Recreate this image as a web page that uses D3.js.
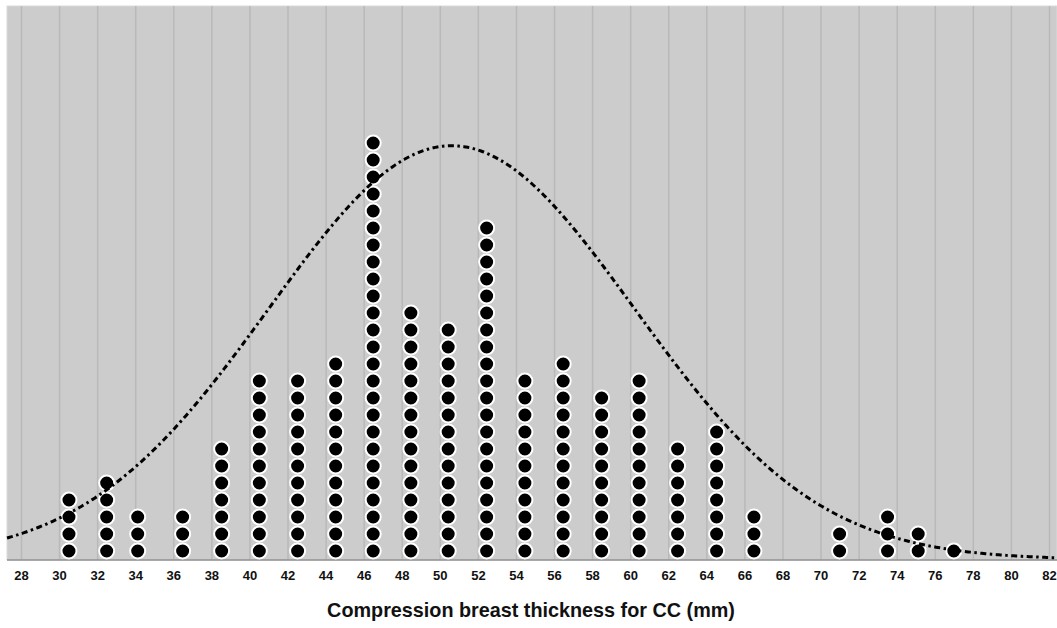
<!DOCTYPE html>
<html>
<head>
<meta charset="utf-8">
<script src="https://cdn.jsdelivr.net/npm/d3@7"></script>
<style>
  html, body { margin: 0; padding: 0; background: #ffffff; }
  svg { display: block; }
</style>
</head>
<body>
<svg id="chart" width="1057" height="628"></svg>
<script>
// ---- data ----
const binValues = [30.52, 32.5, 34.13, 36.49, 38.54, 40.52, 42.53, 44.53, 46.5, 48.48, 50.44, 52.46,
                   54.47, 56.48, 58.5, 60.47, 62.49, 64.54, 66.5, 71.0, 73.52, 75.13, 77.0];
const binCounts = [4, 5, 3, 3, 7, 11, 11, 12, 25, 15, 14, 20, 11, 12, 10, 11, 7, 8, 3, 2, 3, 2, 1];
const tickValues = d3.range(28, 83, 2);
const curveMean = 50.62;
const curveSd = 9.6;
const curvePeak = 24.34;   // height of the normal curve in dot (count) units
const xTitle = "Compression breast thickness for CC (mm)";

// ---- layout ----
const W = 1057, H = 628;
const plot = { left: 7, right: 1057, top: 6, bottom: 559.5 };
const dotStep = 17;   // px per stacked dot

const svg = d3.select("#chart");

const x = d3.scaleLinear().domain([28, 82]).range([21, 1049]);
const yMax = (plot.bottom - plot.top) / dotStep;
const y = d3.scaleLinear().domain([0, yMax]).range([plot.bottom, plot.top]);

// background
svg.append("rect")
  .attr("x", plot.left).attr("y", plot.top)
  .attr("width", plot.right - plot.left).attr("height", plot.bottom - plot.top)
  .attr("fill", "#cccccc")
  .attr("stroke", "#dadada").attr("stroke-width", 1);

// vertical gridlines
svg.append("g")
  .attr("transform", `translate(0,${plot.bottom})`)
  .call(d3.axisBottom(x).tickValues(tickValues).tickSize(-(plot.bottom - plot.top)).tickFormat(""))
  .call(g => g.select(".domain").remove())
  .call(g => g.selectAll(".tick line").attr("stroke", "#b9b9b9").attr("stroke-width", 1.5));

// axis line
svg.append("line")
  .attr("x1", plot.left).attr("x2", plot.right)
  .attr("y1", plot.bottom + 0.5).attr("y2", plot.bottom + 0.5)
  .attr("stroke", "#8c8c8c").attr("stroke-width", 1.5);

// tick labels
svg.append("g")
  .attr("transform", `translate(0,${plot.bottom})`)
  .call(d3.axisBottom(x).tickValues(tickValues).tickSize(0).tickPadding(11).tickFormat(d3.format("d")))
  .call(g => g.select(".domain").remove())
  .call(g => g.selectAll(".tick text")
    .attr("font-family", "'Liberation Sans', Arial, sans-serif")
    .attr("font-size", 13).attr("font-weight", "bold").attr("fill", "#111"));

// dots
const dots = [];
binValues.forEach((v, i) => {
  for (let k = 0; k < binCounts[i]; k++) dots.push({ v, k });
});
svg.append("g").selectAll("circle").data(dots).join("circle")
  .attr("cx", d => x(d.v))
  .attr("cy", d => y(d.k + 0.5))
  .attr("r", 7.5)
  .attr("fill", "#000")
  .attr("stroke", "#ffffff").attr("stroke-width", 2);

// normal curve
const xs = d3.range(x.invert(plot.left), x.invert(plot.right) + 0.01, 0.1);
const line = d3.line()
  .x(v => x(v))
  .y(v => y(curvePeak * Math.exp(-((v - curveMean) ** 2) / (2 * curveSd * curveSd))));
svg.append("path")
  .datum(xs)
  .attr("d", line)
  .attr("fill", "none")
  .attr("stroke", "#000")
  .attr("stroke-width", 3)
  .attr("stroke-dasharray", "6,3.5,2.5,3.5");

// x title
svg.append("text")
  .attr("x", 531).attr("y", 617)
  .attr("text-anchor", "middle")
  .attr("font-family", "'Liberation Sans', Arial, sans-serif")
  .attr("font-size", 19.8)
  .attr("font-weight", "bold")
  .attr("fill", "#111")
  .text(xTitle);
</script>
</body>
</html>
